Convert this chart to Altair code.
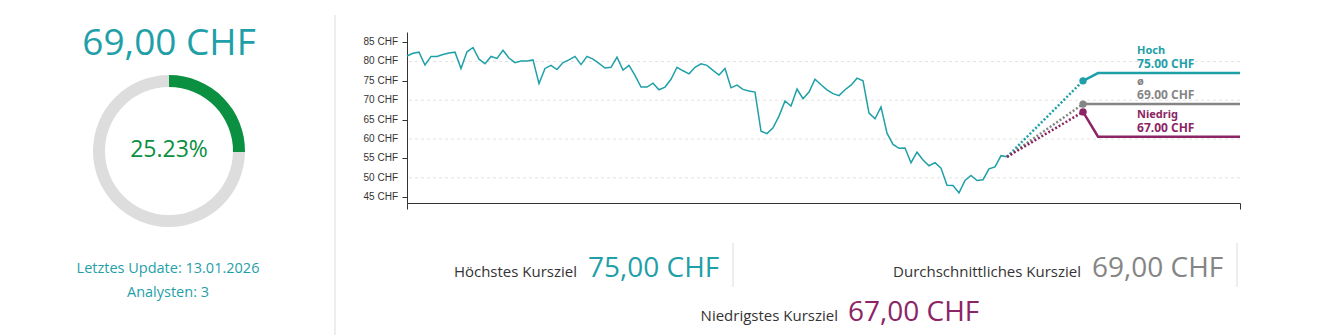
import altair as alt
import pandas as pd

# ---------------- data ----------------
prices = [
    81.4, 82.1, 82.4, 79.1, 81.3, 81.3, 81.8, 82.2, 82.4, 78.2,
    82.5, 83.6, 80.6, 79.4, 81.3, 80.8, 82.9, 80.9, 79.7, 80.1,
    80.1, 80.4, 74.3, 78.2, 79.0, 77.9, 79.7, 80.4, 81.3, 79.2,
    81.3, 80.6, 79.5, 78.3, 78.5, 81.1, 77.8, 79.0, 76.4, 73.4,
    73.4, 74.4, 72.7, 73.4, 75.4, 78.5, 77.6, 76.8, 78.5, 79.4,
    79.0, 77.7, 76.5, 78.2, 73.2, 73.9, 72.8, 72.4, 72.1, 62.0,
    61.4, 62.9, 65.9, 69.8, 68.5, 72.9, 70.4, 72.1, 75.4, 74.0,
    72.7, 71.7, 71.2, 72.7, 73.9, 75.7, 75.0, 66.7, 65.2, 68.3,
    61.5, 58.6, 57.6, 57.7, 53.9, 56.6, 54.6, 53.1, 53.9, 52.5,
    48.1, 48.0, 46.1, 49.3, 50.6, 49.3, 49.5, 52.3, 52.8, 55.7,
    55.4,
]
target_names = ["Hoch", "ø", "Niedrig"]
target_values = [75.0, 69.0, 67.0]
target_label_levels = [77.0, 69.0, 60.6]
target_colors = ["#1fa0a8", "#858585", "#8b2565"]
target_time = 112.67      # time of target dots (x units)
label_time = 115.17       # where the labels' lines turn horizontal
end_time = 138.83         # end of the x axis
y_ticks = [45, 50, 55, 60, 65, 70, 75, 80, 85]
grid_values = [50, 60, 70, 80]

gauge_pct = [25.23, 74.77]
gauge_colors = ["#0a9040", "#dddddd"]

headline = "69,00 CHF"
gauge_text = "25.23%"
update_text = "Letztes Update: 13.01.2026"
analysts_text = "Analysten: 3"
summary_labels = ["Höchstes Kursziel", "Durchschnittliches Kursziel", "Niedrigstes Kursziel"]
summary_values = ["75,00 CHF", "69,00 CHF", "67,00 CHF"]

TEAL = "#1fa0a8"
FONT = "Open Sans"

# ---------------- tables ----------------
price_df = pd.DataFrame({"t": list(range(len(prices))), "p": prices})
last_t = len(prices) - 1
last_p = prices[-1]

proj_rows, solid_rows, lab_rows = [], [], []
for n, v, lv, c in zip(target_names, target_values, target_label_levels, target_colors):
    proj_rows += [{"s": n, "t": last_t, "p": last_p, "c": c, "o": 0},
                  {"s": n, "t": target_time, "p": v, "c": c, "o": 1}]
    solid_rows += [{"s": n, "t": target_time, "p": v, "c": c, "o": 0},
                   {"s": n, "t": label_time, "p": lv, "c": c, "o": 1},
                   {"s": n, "t": end_time, "p": lv, "c": c, "o": 2}]
    lab_rows.append({"s": n, "t": label_time, "p": lv, "c": c, "v": v,
                     "vt": f"{v:.2f} CHF"})
proj_df = pd.DataFrame(proj_rows)
solid_df = pd.DataFrame(solid_rows)
lab_df = pd.DataFrame(lab_rows)
dot_df = pd.DataFrame({"t": [target_time] * 3, "p": target_values, "c": target_colors})
tick_df = pd.DataFrame({"v": y_ticks})

xs = alt.Scale(domain=[0, end_time], nice=False, zero=False)
ys = alt.Scale(domain=[43.5, 87.6], nice=False, zero=False)

x_axis = alt.Axis(values=[0, end_time], labels=False, grid=False, tickSize=6,
                  domainColor="#333333", tickColor="#333333")
y_axis = alt.Axis(values=y_ticks, labels=False, grid=False, tickSize=5,
                  domainColor="#333333", tickColor="#333333")

grid = alt.Chart(pd.DataFrame({"g": grid_values})).mark_rule(
    color="#e3e3e3", strokeDash=[3, 3], strokeWidth=1
).encode(y=alt.Y("g:Q", scale=ys, axis=y_axis, title=None))

price_line = alt.Chart(price_df).mark_line(color=TEAL, strokeWidth=1.5).encode(
    x=alt.X("t:Q", scale=xs, title=None, axis=x_axis),
    y=alt.Y("p:Q", scale=ys, title=None, axis=y_axis),
)

# y tick labels, placed through the y scale
y_labels = alt.Chart(tick_df).transform_calculate(
    lab="datum.v + ' CHF'"
).mark_text(align="right", baseline="middle", fontSize=10, font="Liberation Sans",
            color="#333333").encode(
    x=alt.value(-9), y=alt.Y("v:Q", scale=ys), text="lab:N")

proj = alt.Chart(proj_df).mark_line(strokeDash=[2, 2], strokeWidth=2.5).encode(
    x=alt.X("t:Q", scale=xs), y=alt.Y("p:Q", scale=ys),
    color=alt.Color("c:N", scale=None), detail="s:N", order="o:Q")

solid = alt.Chart(solid_df).mark_line(strokeWidth=2.5).encode(
    x=alt.X("t:Q", scale=xs), y=alt.Y("p:Q", scale=ys),
    color=alt.Color("c:N", scale=None), detail="s:N", order="o:Q")

dots = alt.Chart(dot_df).mark_circle(size=55, opacity=1).encode(
    x=alt.X("t:Q", scale=xs), y=alt.Y("p:Q", scale=ys),
    color=alt.Color("c:N", scale=None))

lab_name = alt.Chart(lab_df).mark_text(
    align="left", baseline="middle", dx=39, dy=-22, fontSize=11,
    fontWeight="bold", font="Noto Sans").encode(
    x=alt.X("t:Q", scale=xs), y=alt.Y("p:Q", scale=ys),
    text="s:N", color=alt.Color("c:N", scale=None))

lab_val = alt.Chart(lab_df).mark_text(
    align="left", baseline="middle", dx=39, dy=-9, fontSize=12,
    fontWeight="bold", font=FONT).encode(
    x=alt.X("t:Q", scale=xs), y=alt.Y("p:Q", scale=ys),
    text="vt:N", color=alt.Color("c:N", scale=None))

# ---------------- annotations (outside the plot area) ----------------
def txt(text, x, y, size, color, align="center", weight="normal"):
    return alt.Chart(pd.DataFrame({"txt": [text]})).mark_text(
        align=align, baseline="alphabetic", fontSize=size, font=FONT,
        color=color, fontWeight=weight
    ).encode(x=alt.value(x), y=alt.value(y), text="txt:N")

def vrule(x, y1, y2):
    return alt.Chart(pd.DataFrame({"r": [0]})).mark_rule(color="#dddddd", strokeWidth=1).encode(
        x=alt.value(x), y=alt.value(y1), y2=alt.value(y2))

gauge = alt.Chart(pd.DataFrame({"v": gauge_pct, "c": gauge_colors, "o": [0, 1]})).mark_arc(
    radius=76, radius2=64).encode(
    theta=alt.Theta("v:Q", stack=True),
    color=alt.Color("c:N", scale=None),
    order=alt.Order("o:Q"),
    x=alt.value(-238), y=alt.value(119))

annotations = [
    txt(headline, -238, 23, 37, TEAL),
    gauge,
    txt(gauge_text, -238, 125, 23, "#0a9040"),
    txt(update_text, -239, 241, 14.5, TEAL),
    txt(analysts_text, -239, 265, 14.5, TEAL),
    vrule(-72, -17, 303),
    txt(summary_labels[0], 170, 245, 15, "#333333", align="right"),
    txt(summary_values[0], 181, 245, 28, TEAL, align="left"),
    vrule(326, 211, 255),
    txt(summary_labels[1], 674, 245, 15, "#333333", align="right"),
    txt(summary_values[1], 685, 245, 28, "#858585", align="left"),
    vrule(830, 211, 255),
    txt(summary_labels[2], 431, 289, 15, "#333333", align="right"),
    txt(summary_values[2], 441, 289, 28, "#8b2565", align="left"),
]

chart = alt.layer(grid, price_line, y_labels, proj, solid, dots, lab_name, lab_val,
                  *annotations).properties(
    width=833, height=171,
    autosize=alt.AutoSizeParams(type="none"),
    padding={"left": 407, "top": 32, "right": 102, "bottom": 132},
    background="white",
).configure_view(stroke=None)

chart.save("out.html", embed_options={"renderer": "svg", "actions": False})
